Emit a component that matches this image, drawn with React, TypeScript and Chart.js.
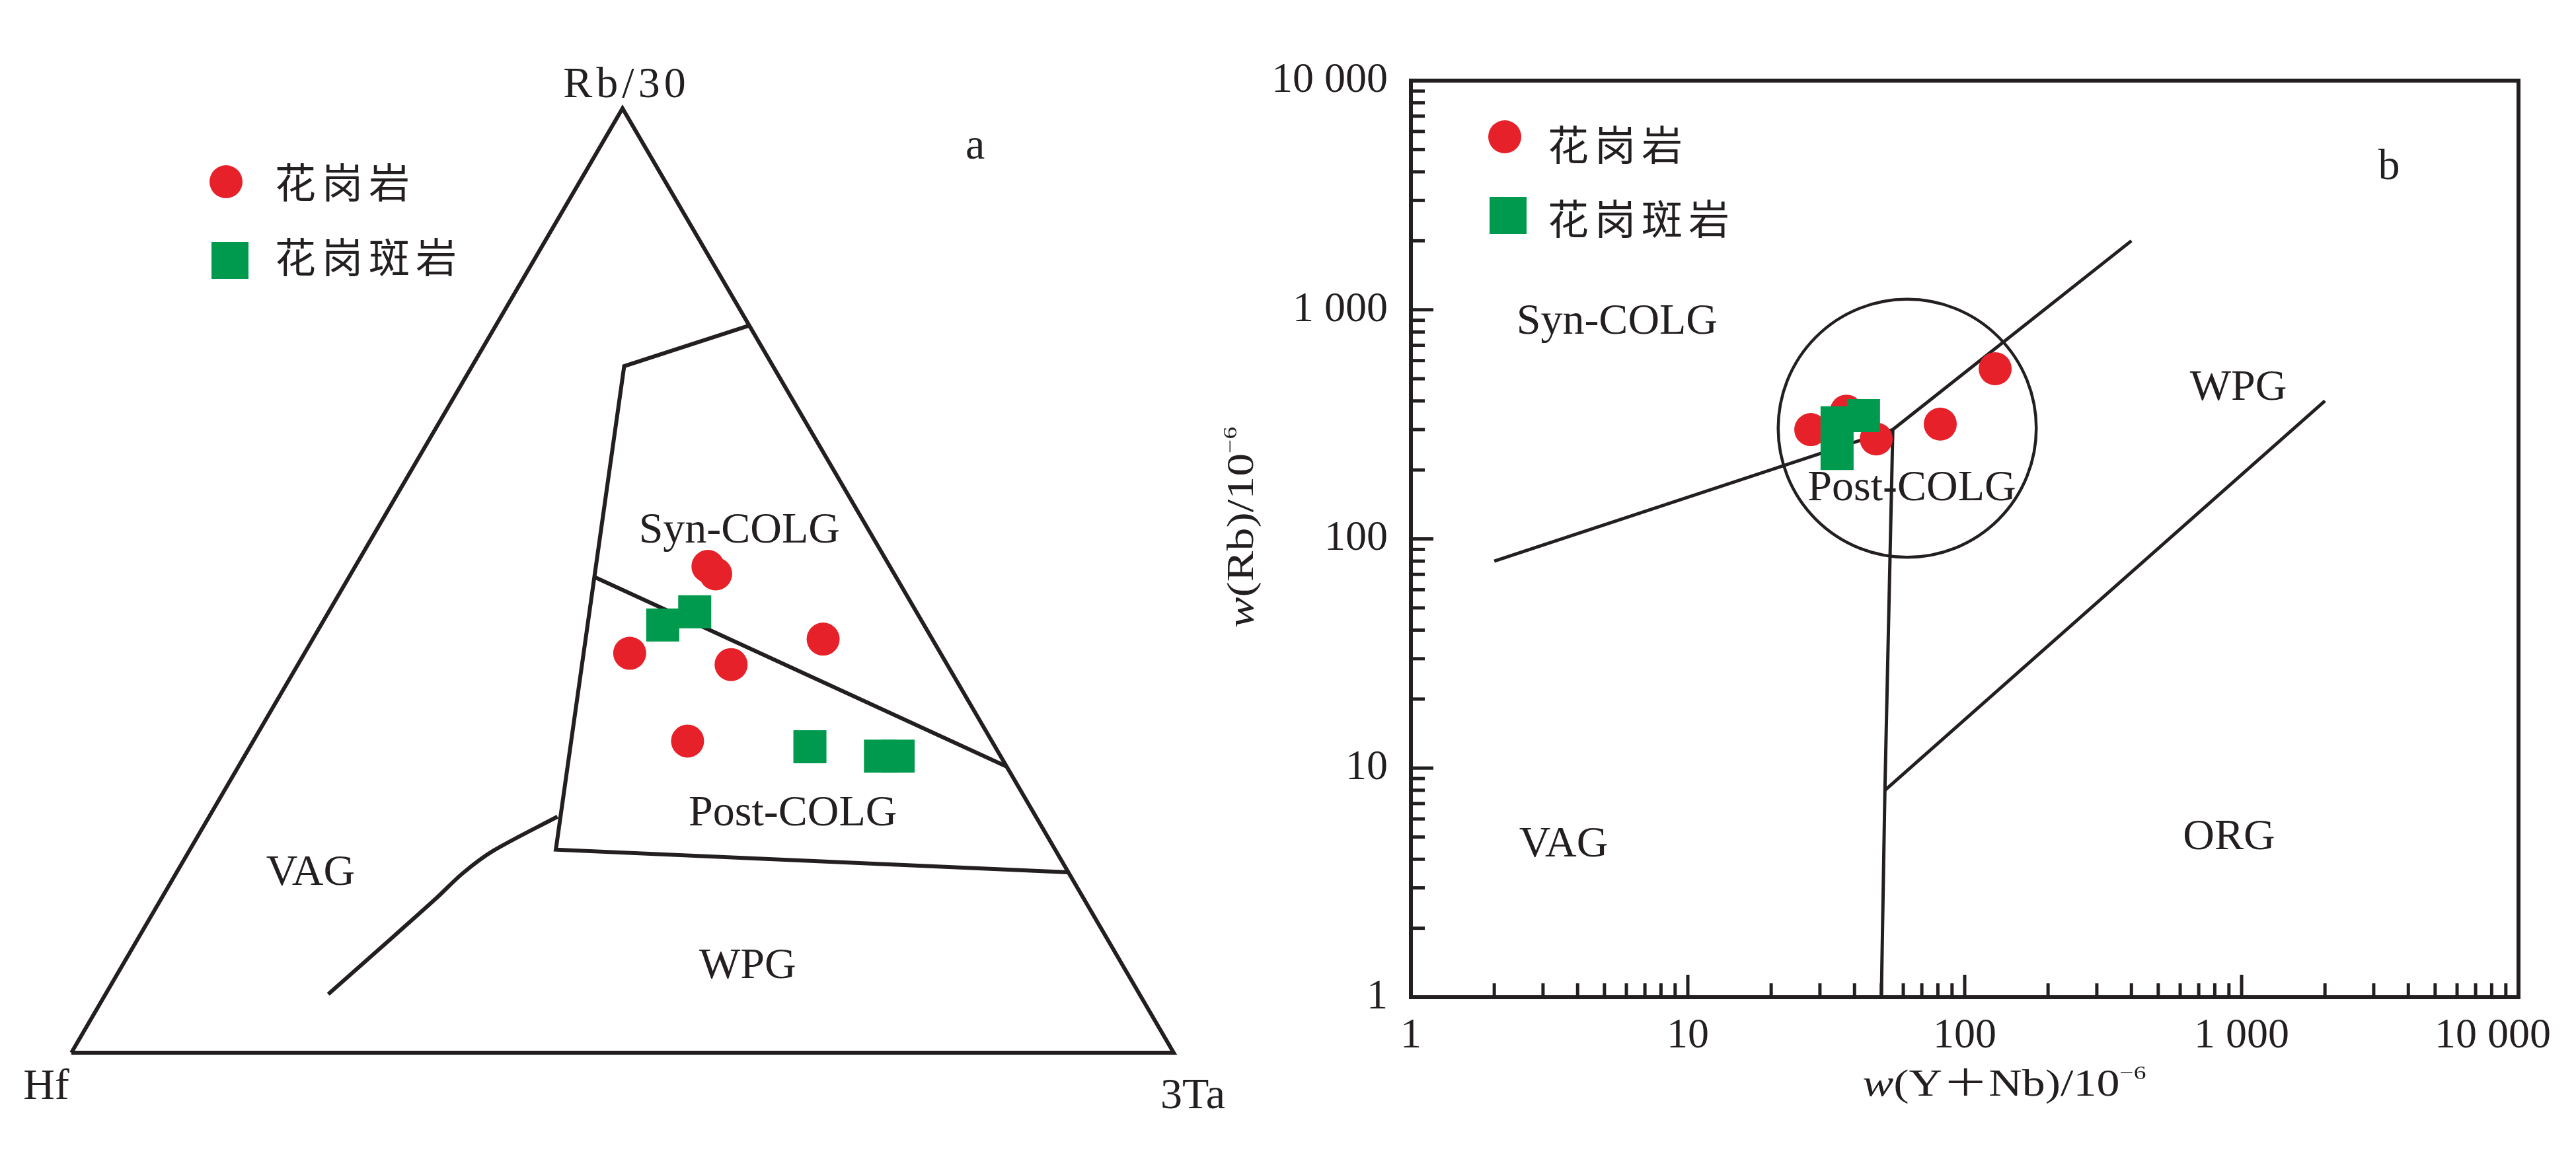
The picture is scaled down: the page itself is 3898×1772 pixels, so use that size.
import React, { useEffect, useRef } from 'react';
import { Chart, registerables } from 'chart.js';

Chart.register(...registerables);

// ---------------- Panel a : Hf – Rb/30 – 3Ta ternary (percent) ----------------
const vertexLabels = ['Hf', 'Rb/30', '3Ta'];
const seriesNames = ['花岗岩', '花岗斑岩'];

const graniteHf = [16.5, 16.2, 28.2, 19.6, 9.9, 27.6];
const graniteRb = [51.5, 50.7, 42.3, 41.1, 43.8, 33.0];
const graniteTa = [32.0, 33.1, 29.5, 39.3, 46.3, 39.4];

const porphyryHf = [23.7, 20.1, 16.8, 10.9, 9.3];
const porphyryRb = [45.3, 46.7, 32.4, 31.4, 31.4];
const porphyryTa = [31.0, 33.2, 50.8, 57.7, 59.3];

const frameHf = [100, 0, 0, 100];
const frameRb = [0, 100, 0, 0];
const frameTa = [0, 0, 100, 0];

const synUpperHf = [0, 13.5, 45.3, 0];
const synUpperRb = [77.0, 72.7, 21.5, 19.1];
const synUpperTa = [23.0, 13.8, 33.2, 80.9];

const synPostHf = [27.4, 0];
const synPostRb = [50.4, 30.3];
const synPostTa = [22.2, 69.7];

const vagWpgHf = [43.4, 51.0, 55.0, 58.8, 66.1, 73.6];
const vagWpgRb = [25.0, 21.4, 19.0, 16.3, 11.3, 6.2];
const vagWpgTa = [31.6, 27.6, 26.0, 24.9, 22.6, 20.2];

const fieldNamesA = ['Syn-COLG', 'Post-COLG', 'VAG', 'WPG'];
const fieldHfA = [12.4, 22.5, 69.4, 34.7];
const fieldRbA = [54.0, 24.1, 17.8, 7.9];
const fieldTaA = [33.6, 53.4, 12.8, 57.4];

// ---------------- Panel b : Rb vs (Y+Nb) log-log ----------------
const graniteYNb = [27.8, 37.4, 47.9, 81.6, 128.8];
const graniteRbB = [300, 361, 273, 317, 553];

const porphyryYNb = [34.6, 34.6, 43.1];
const porphyryRbB = [321, 236, 345];

const vagSynX = [2, 55, 400];
const vagSynY = [80, 300, 2000];
const vagOrgX = [55, 51.5, 50];
const vagOrgY = [300, 8, 1];
const wpgOrgX = [51.5, 2000];
const wpgOrgY = [8, 400];

const postCircleCenter = { x: 62, y: 304 };
const postCircleEdgeX = 21.2;

const fieldNamesB = ['Syn-COLG', 'WPG', 'Post-COLG', 'VAG', 'ORG'];
const fieldXB = [5.55, 973, 64.4, 3.56, 901];
const fieldYB = [786, 405, 147.5, 4.11, 4.43];

const axisMin = 1;
const axisMax = 10000;

// ---------------- styles ----------------
const INK = '#231f20';
const RED = '#e6212a';
const GREEN = '#009a4e';
const SERIF = '"Liberation Serif", "Times New Roman", serif';
const CJK = '"Noto Sans CJK SC", sans-serif';
const LABEL_SIZE = 66;

function tern(hf: number[], rb: number[], ta: number[]) {
  return hf.map((h, i) => {
    const s = h + rb[i] + ta[i];
    const r = rb[i] / s;
    const t = ta[i] / s;
    return { x: t + r / 2, y: r };
  });
}

function pairs(xs: number[], ys: number[]) {
  return xs.map((x, i) => ({ x, y: ys[i] }));
}

function lineDs(data: any[], width: number, tension = 0) {
  return {
    data,
    showLine: true,
    borderColor: INK,
    borderWidth: width,
    pointRadius: 0,
    pointHoverRadius: 0,
    fill: false,
    tension,
    clip: false as const,
    order: 3,
    borderJoinStyle: 'miter' as const,
    borderCapStyle: 'butt' as const,
  };
}

function pointDs(label: string, data: any[], kind: 'circle' | 'rect') {
  return {
    label,
    data,
    showLine: false,
    pointStyle: kind,
    pointRadius: kind === 'circle' ? 25 : 35.36,
    pointHoverRadius: kind === 'circle' ? 25 : 35.36,
    backgroundColor: kind === 'circle' ? RED : GREEN,
    borderWidth: 0,
    clip: false as const,
    order: kind === 'circle' ? 2 : 1,
  };
}

function drawText(ctx: CanvasRenderingContext2D, s: string, x: number, y: number, size = LABEL_SIZE, align: CanvasTextAlign = 'center', spacing = 0) {
  ctx.font = `${size}px ${SERIF}`;
  ctx.textAlign = align;
  ctx.textBaseline = 'alphabetic';
  ctx.fillStyle = INK;
  (ctx as any).letterSpacing = `${spacing}px`;
  ctx.fillText(s, x, y);
  (ctx as any).letterSpacing = '0px';
}

function spacedCJK(ctx: CanvasRenderingContext2D, s: string, x: number, cy: number, size: number, pitch: number) {
  ctx.font = `${size}px ${CJK}`;
  ctx.textAlign = 'left';
  ctx.textBaseline = 'middle';
  ctx.fillStyle = INK;
  Array.from(s).forEach((ch, i) => ctx.fillText(ch, x + i * pitch, cy));
}

function drawLegend(ctx: CanvasRenderingContext2D, rows: { kind: 'circle' | 'rect'; mx: number; my: number; tx: number; ty: number; label: string; color: string }[]) {
  rows.forEach((r) => {
    ctx.fillStyle = r.color;
    if (r.kind === 'circle') {
      ctx.beginPath();
      ctx.arc(r.mx, r.my, 25, 0, Math.PI * 2);
      ctx.fill();
    } else {
      ctx.fillRect(r.mx - 28, r.my - 28, 56, 56);
    }
    spacedCJK(ctx, r.label, r.tx, r.ty, 62, 71);
  });
}

type Part = { t: string; font: string; dy?: number };
function drawTitle(ctx: CanvasRenderingContext2D, parts: Part[], x: number, y: number, rotate: boolean, sx: number) {
  ctx.save();
  ctx.translate(x, y);
  if (rotate) ctx.rotate(-Math.PI / 2);
  ctx.scale(sx, 1);
  let total = 0;
  const widths = parts.map((p) => {
    ctx.font = p.font;
    const w = ctx.measureText(p.t).width;
    total += w;
    return w;
  });
  let cx = -total / 2;
  ctx.fillStyle = INK;
  ctx.textAlign = 'left';
  ctx.textBaseline = 'alphabetic';
  parts.forEach((p, i) => {
    ctx.font = p.font;
    ctx.fillText(p.t, cx, p.dy || 0);
    cx += widths[i];
  });
  ctx.restore();
}

function isPow10(v: number) {
  const l = Math.log10(v);
  return Math.abs(l - Math.round(l)) < 1e-9;
}

function formatTick(v: number) {
  return String(Math.round(v)).replace(/\B(?=(\d{3})+(?!\d))/g, ' ');
}

function keepIntegerSignificands(scale: any) {
  scale.ticks = scale.ticks.filter((t: any) => {
    const e = Math.floor(Math.log10(t.value) + 1e-9);
    const s = t.value / Math.pow(10, e);
    return Math.abs(s - Math.round(s)) < 1e-6;
  });
}

function buildTernary(canvas: HTMLCanvasElement) {
  const decor = {
    id: 'ternaryDecor',
    afterDraw(chart: any) {
      const ctx: CanvasRenderingContext2D = chart.ctx;
      const xs = chart.scales.x;
      const ys = chart.scales.y;
      const P = (x: number, y: number) => [xs.getPixelForValue(x), ys.getPixelForValue(y)];
      ctx.save();
      const [hx, hy] = P(0, 0);
      const [rx, ry] = P(0.5, 1);
      const [tx, ty] = P(1, 0);
      drawText(ctx, vertexLabels[0], hx - 38, hy + 70);
      drawText(ctx, vertexLabels[1], rx + 6, ry - 17, LABEL_SIZE, 'center', 6);
      drawText(ctx, vertexLabels[2], tx + 29, ty + 84);
      const pos = tern(fieldHfA, fieldRbA, fieldTaA);
      pos.forEach((p, i) => {
        const [px, py] = P(p.x, p.y);
        drawText(ctx, fieldNamesA[i], px, py);
      });
      const ca = chart.chartArea;
      drawText(ctx, 'a', ca.left + 0.82 * (ca.right - ca.left), ca.top + 0.053 * (ca.bottom - ca.top));
      drawLegend(ctx, [
        { kind: 'circle', mx: 342, my: 275, tx: 416, ty: 276, label: seriesNames[0], color: RED },
        { kind: 'rect', mx: 348, my: 394, tx: 416, ty: 389, label: seriesNames[1], color: GREEN },
      ]);
      ctx.restore();
    },
  };
  return new Chart(canvas, {
    type: 'scatter',
    data: {
      datasets: [
        lineDs(tern(frameHf, frameRb, frameTa), 6),
        lineDs(tern(synUpperHf, synUpperRb, synUpperTa), 6),
        lineDs(tern(synPostHf, synPostRb, synPostTa), 6),
        lineDs(tern(vagWpgHf, vagWpgRb, vagWpgTa), 6, 0.3),
        pointDs(seriesNames[0], tern(graniteHf, graniteRb, graniteTa), 'circle'),
        pointDs(seriesNames[1], tern(porphyryHf, porphyryRb, porphyryTa), 'rect'),
      ] as any,
    },
    options: {
      responsive: false,
      animation: false,
      devicePixelRatio: 1,
      events: [],
      layout: { padding: { left: 108, right: 174, top: 164, bottom: 179 } },
      scales: {
        x: { type: 'linear', min: 0, max: 1, display: false },
        y: { type: 'linear', min: 0, max: 1, display: false },
      },
      plugins: { legend: { display: false }, tooltip: { enabled: false } },
    } as any,
    plugins: [decor],
  });
}

function buildLog(canvas: HTMLCanvasElement) {
  const tickFont = { family: SERIF, size: 64 };
  const decor = {
    id: 'logDecor',
    beforeDatasetsDraw(chart: any) {
      const ctx: CanvasRenderingContext2D = chart.ctx;
      const xs = chart.scales.x;
      const ys = chart.scales.y;
      const cx = xs.getPixelForValue(postCircleCenter.x);
      const cy = ys.getPixelForValue(postCircleCenter.y);
      const r = cx - xs.getPixelForValue(postCircleEdgeX);
      ctx.save();
      ctx.strokeStyle = INK;
      ctx.lineWidth = 4.5;
      ctx.beginPath();
      ctx.arc(cx, cy, r, 0, Math.PI * 2);
      ctx.stroke();
      ctx.restore();
    },
    afterDraw(chart: any) {
      const ctx: CanvasRenderingContext2D = chart.ctx;
      const xs = chart.scales.x;
      const ys = chart.scales.y;
      const ca = chart.chartArea;
      ctx.save();
      ctx.strokeStyle = INK;
      ctx.lineWidth = 6;
      ctx.lineCap = 'square';
      ctx.beginPath();
      ctx.moveTo(ca.left, ca.top);
      ctx.lineTo(ca.right, ca.top);
      ctx.lineTo(ca.right, ca.bottom);
      ctx.stroke();
      ctx.lineCap = 'butt';
      ctx.lineWidth = 5;
      xs.ticks.forEach((t: any) => {
        if (t.value <= axisMin || t.value >= axisMax) return;
        const p = xs.getPixelForValue(t.value);
        const len = isPow10(t.value) ? 34 : 21;
        ctx.beginPath();
        ctx.moveTo(p, ca.bottom);
        ctx.lineTo(p, ca.bottom - len);
        ctx.stroke();
      });
      ys.ticks.forEach((t: any) => {
        if (t.value <= axisMin || t.value >= axisMax) return;
        const p = ys.getPixelForValue(t.value);
        const len = isPow10(t.value) ? 34 : 21;
        ctx.beginPath();
        ctx.moveTo(ca.left, p);
        ctx.lineTo(ca.left + len, p);
        ctx.stroke();
      });
      // x tick labels (last one kept inside the page)
      ctx.font = `${tickFont.size}px ${SERIF}`;
      ctx.fillStyle = INK;
      ctx.textAlign = 'center';
      ctx.textBaseline = 'alphabetic';
      const maxRight = chart.width - 38;
      xs.ticks.forEach((t: any) => {
        if (!isPow10(t.value)) return;
        const s = formatTick(t.value);
        const w = ctx.measureText(s).width;
        let p = xs.getPixelForValue(t.value);
        if (p + w / 2 > maxRight) p = maxRight - w / 2;
        ctx.fillText(s, p, ca.bottom + 76);
      });
      fieldNamesB.forEach((n, i) => {
        drawText(ctx, n, xs.getPixelForValue(fieldXB[i]), ys.getPixelForValue(fieldYB[i]));
      });
      drawText(ctx, 'b', xs.getPixelForValue(3406), ys.getPixelForValue(3717));
      const off = 1800;
      drawLegend(ctx, [
        { kind: 'circle', mx: 2277 - off, my: 207, tx: 2342 - off, ty: 219, label: seriesNames[0], color: RED },
        { kind: 'rect', mx: 2282 - off, my: 326, tx: 2342 - off, ty: 331, label: seriesNames[1], color: GREEN },
      ]);
      const f = `56px ${SERIF}`;
      const fi = `italic 56px ${SERIF}`;
      const fs = `30px ${SERIF}`;
      const fc = `56px ${CJK}`;
      drawTitle(ctx, [
        { t: 'w', font: fi },
        { t: '(Y', font: f },
        { t: '＋', font: fc },
        { t: 'Nb)/10', font: f },
        { t: '−6', font: fs, dy: -25 },
      ], 3033 - off, 1658, false, 1.25);
      drawTitle(ctx, [
        { t: 'w', font: fi },
        { t: '(Rb)/10', font: f },
        { t: '−6', font: fs, dy: -25 },
      ], 1896 - off, 798, true, 1.25);
      ctx.restore();
    },
  };
  return new Chart(canvas, {
    type: 'scatter',
    data: {
      datasets: [
        lineDs(pairs(vagSynX, vagSynY), 5),
        lineDs(pairs(vagOrgX, vagOrgY), 5),
        lineDs(pairs(wpgOrgX, wpgOrgY), 5),
        pointDs(seriesNames[0], pairs(graniteYNb, graniteRbB), 'circle'),
        pointDs(seriesNames[1], pairs(porphyryYNb, porphyryRbB), 'rect'),
      ] as any,
    },
    options: {
      responsive: false,
      animation: false,
      devicePixelRatio: 1,
      events: [],
      layout: { padding: { left: 35, right: 87, top: 122, bottom: 113 } },
      scales: {
        x: {
          type: 'logarithmic',
          position: 'bottom',
          min: axisMin,
          max: axisMax,
          grid: { display: false, drawTicks: false, tickLength: 0 },
          border: { display: true, width: 6, color: INK },
          ticks: { display: false, autoSkip: false, maxRotation: 0, minRotation: 0 },
          afterBuildTicks: keepIntegerSignificands,
          afterFit: (s: any) => {
            s.height = 150;
            s.paddingLeft = 0;
            s.paddingRight = 0;
          },
        },
        y: {
          type: 'logarithmic',
          position: 'left',
          min: axisMin,
          max: axisMax,
          grid: { display: false, drawTicks: false, tickLength: 0 },
          border: { display: true, width: 6, color: INK },
          ticks: {
            autoSkip: false,
            padding: 35,
            color: INK,
            font: tickFont,
            callback: (v: any) => (isPow10(Number(v)) ? formatTick(Number(v)) : ''),
          },
          afterBuildTicks: keepIntegerSignificands,
          afterFit: (s: any) => {
            s.width = 300;
            s.paddingTop = 0;
            s.paddingBottom = 0;
          },
        },
      },
      plugins: { legend: { display: false }, tooltip: { enabled: false } },
    } as any,
    plugins: [decor],
  });
}

export default function App() {
  const leftRef = useRef<HTMLCanvasElement>(null);
  const rightRef = useRef<HTMLCanvasElement>(null);
  useEffect(() => {
    const a = buildTernary(leftRef.current!);
    const b = buildLog(rightRef.current!);
    return () => {
      a.destroy();
      b.destroy();
    };
  }, []);
  return (
    <div style={{ position: 'absolute', left: 0, top: 0, width: 3898, height: 1772, background: '#ffffff', overflow: 'hidden' }}>
      <canvas ref={leftRef} width={1950} height={1772} style={{ position: 'absolute', left: 0, top: 0, width: 1950, height: 1772 }} />
      <canvas ref={rightRef} width={2098} height={1772} style={{ position: 'absolute', left: 1800, top: 0, width: 2098, height: 1772 }} />
    </div>
  );
}
